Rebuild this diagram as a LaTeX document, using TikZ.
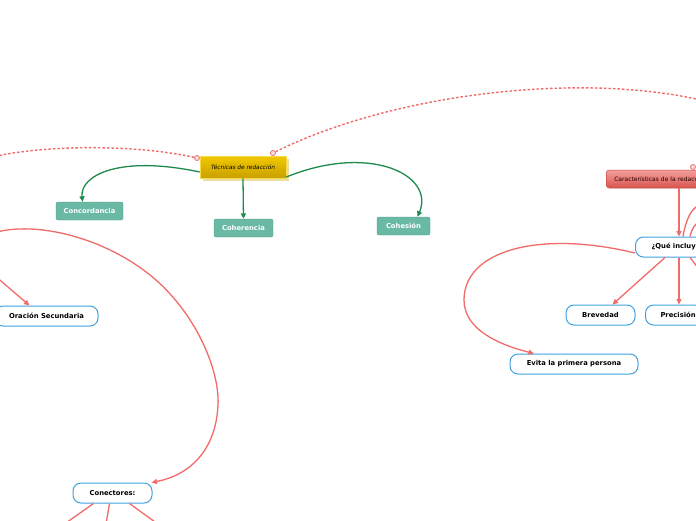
\documentclass[tikz,border=0pt]{standalone}
\usepackage{fontspec}
\setmainfont{DejaVu Sans}
\usetikzlibrary{arrows.meta,shadings}
\definecolor{redl}{HTML}{F26B6B}
\definecolor{greenl}{HTML}{1E8A4E}
\definecolor{teal}{HTML}{69B9A5}
\definecolor{bluel}{HTML}{3FA2E0}
\definecolor{yeltop}{HTML}{F2C800}
\definecolor{yelbot}{HTML}{C9A000}
\definecolor{yelshadow}{HTML}{EADFA0}
\definecolor{cartop}{HTML}{F3A09C}
\definecolor{carbot}{HTML}{D9534F}
\tikzset{
  topicbox/.style={rectangle, rounded corners=2pt, fill=teal, draw=teal!85!black, text=white,
    font=\fontsize{6.8}{8}\selectfont\bfseries, inner sep=0pt},
  subbox/.style={rectangle, rounded corners=8pt, fill=white, draw=bluel, line width=1pt,
    font=\fontsize{6.8}{8}\selectfont\bfseries, inner sep=0pt, minimum height=20pt},
  garrow/.style={draw=greenl, line width=1.3pt, -{Triangle[length=5.5pt,width=5pt]}},
  rarrow/.style={draw=redl, line width=1.3pt, -{Triangle[length=5.5pt,width=5pt]}},
  rline/.style={draw=redl, line width=1.3pt},
  rdash/.style={draw=redl, line width=1.4pt, dash pattern=on 2.5pt off 2pt},
  marker/.style={circle, draw=redl, fill=redl!20, line width=0.8pt, minimum size=5pt, inner sep=0pt}
}
\begin{document}
\begin{tikzpicture}[x=1pt,y=-1pt]
\clip (0,0) rectangle (696,520);
\fill[white] (0,0) rectangle (696,520);

% main node
\node[rectangle, fill=yelshadow, minimum width=86pt, minimum height=22pt, inner sep=0pt] (tecsh) at (246,170) {};
\node[rectangle, top color=yeltop, bottom color=yelbot, draw=yeltop!70!white, line width=0.6pt,
  minimum width=86pt, minimum height=22pt, inner sep=0pt,
  font=\fontsize{5.8}{7}\selectfont\itshape] (tec) at (243,167) {Técnicas de redacción};

% topics
\node[topicbox, minimum width=67pt, minimum height=18pt] (conc) at (89.5,211) {Concordancia};
\node[topicbox, minimum width=59pt, minimum height=18pt] (coh) at (243.5,228) {Coherencia};
\node[topicbox, minimum width=53pt, minimum height=18pt] (cohe) at (403.5,226) {Cohesión};

% characteristics
\node[rectangle, rounded corners=3pt, top color=cartop, bottom color=carbot, draw=carbot!90!black,
  line width=0.5pt, anchor=west, minimum height=18pt, minimum width=150pt, inner xsep=8pt,
  text=black!85!red, font=\fontsize{6}{7}\selectfont, align=left, text width=134pt] (car) at (606,179)
  {Características de la redacción};

\node[subbox, anchor=west, minimum width=90pt, text width=74pt, align=left, inner xsep=16pt] (que) at (635,247) {¿Qué incluye?};
\node[subbox, minimum width=69pt] (brev) at (600.5,315) {Brevedad};
\node[subbox, anchor=west, minimum width=70pt, text width=55pt, align=left, inner xsep=15pt] (prec) at (645,315) {Precisión};
\node[subbox, minimum width=128pt] (evita) at (574,364) {Evita la primera persona};
\node[subbox, minimum width=103pt] (oras) at (46.5,316) {Oración Secundaria};
\node[subbox, minimum width=79pt] (conec) at (112.5,493) {Conectores:};

% markers
\node[marker] (m1) at (197,158) {};
\node[marker] (m2) at (273,153) {};
\node[marker] (m3) at (693,167) {};

% off-screen coordinates
\coordinate (dl) at (-20,160);
\coordinate (dr) at (720,105);
\coordinate (bl) at (-10,234);
\coordinate (ol) at (-6,275);
\coordinate (qr1) at (700,204);
\coordinate (qr2) at (700,221);
\coordinate (qr3) at (702,273);
\coordinate (c1) at (56,530);
\coordinate (c2) at (105,530);
\coordinate (c3) at (166,530);

% dashed relations
\draw[rdash] (m1) .. controls (140,145) and (40,143) .. (dl);
\draw[rdash] (m2) .. controls (400,90) and (600,70) .. (dr);

% green connectors
\draw[garrow] ([yshift=-5pt]tec.west) .. controls (120,155) and (80,175) .. ([xshift=-7pt]conc.north);
\draw[garrow] (tec.south) -- (coh.north);
\draw[garrow] ([yshift=-10pt]tec.east) .. controls (370,143) and (435,175) .. ([xshift=14pt]cohe.north);

% red connectors right
\draw[rarrow] ([xshift=73pt]car.south west) -- ([xshift=44pt]que.north west);
\draw[rarrow] ([xshift=30pt]que.south west) -- ([xshift=12pt]brev.north);
\draw[rarrow] ([xshift=44pt]que.south west) -- ([xshift=34pt]prec.north west);
\draw[rarrow] ([yshift=-6pt]que.west) .. controls (540,230) and (464,250) .. (464,300)
  .. controls (464,330) and (500,345) .. ([xshift=-40pt]evita.north);
\draw[rline] ([xshift=48pt]que.north west) .. controls (686,220) and (690,210) .. (qr1);
\draw[rline] ([xshift=55pt]que.north west) .. controls (692,228) and (695,224) .. (qr2);
\draw[rline] ([xshift=55pt]que.south west) -- (qr3);

% red connectors left
\draw[rarrow] (bl) .. controls (30,220) and (100,235) .. (150,275)
  .. controls (195,311) and (220,370) .. (218,405)
  .. controls (216,450) and (190,475) .. ([xshift=-1pt]conec.north east);
\draw[rarrow] (ol) -- ([xshift=-17pt]oras.north);
\draw[rline] ([xshift=-19pt]conec.south) -- (c1);
\draw[rline] ([xshift=-3pt]conec.south) -- (c2);
\draw[rline] ([xshift=17pt]conec.south) -- (c3);
\end{tikzpicture}
\end{document}
